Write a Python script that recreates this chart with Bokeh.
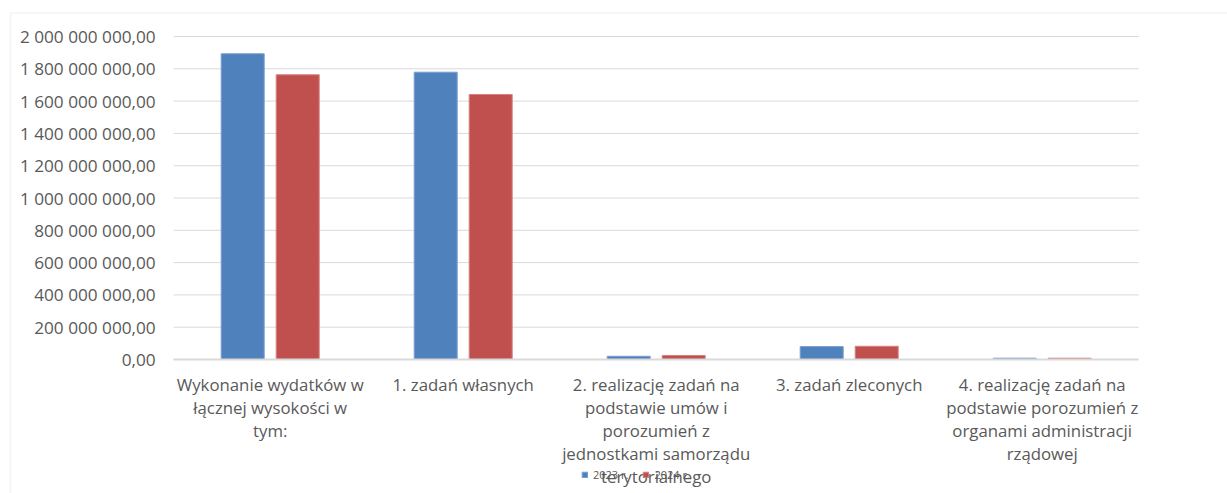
from bokeh.plotting import figure
from bokeh.models import (ColumnDataSource, FixedTicker, Legend, LegendItem,
                          BoxAnnotation, Range1d)
from bokeh.embed import file_html
from bokeh.resources import INLINE

categories = [
    "Wykonanie wydatków w\nłącznej wysokości w\ntym:",
    "1. zadań własnych",
    "2. realizację zadań na\npodstawie umów i\nporozumień z\njednostkami samorządu\nterytorialnego",
    "3. zadań zleconych",
    "4. realizację zadań na\npodstawie porozumień z\norganami administracji\nrządowej",
]
values_2023 = [1893000000, 1779000000, 20000000, 80000000, 8000000]
values_2024 = [1763000000, 1641000000, 25000000, 82000000, 8000000]
series_names = ["2023 r.", "2024 r."]
y_ticks = [i * 200000000 for i in range(11)]


def fmt(v):
    s = f"{v:,.2f}"
    return s.replace(",", " ").replace(".", ",")


idx = list(range(len(categories)))
off = 0.1425
bw = 43 / 193
src = ColumnDataSource(data=dict(
    xa=[i - off for i in idx], xb=[i + off for i in idx],
    a=values_2023, b=values_2024))

# layout geometry (canvas pixels -> data)
W, H = 1227, 493
PX_X = 193.0          # pixels per category
X0 = 173.2            # canvas x of plot-area left edge (x = -0.5)
PX_Y = 161.5e-9       # pixels per unit value
Y0 = 359.0            # canvas y of value 0


def xd(P):
    return -0.5 + (P - X0) / PX_X


def yd(P):
    return (Y0 - P) / PX_Y


FONT = "Open Sans"
p = figure(x_range=Range1d(xd(0), xd(W)), y_range=Range1d(yd(H), yd(0)),
           width=W, height=H, output_backend="svg", toolbar_location=None,
           min_border_left=0, min_border_right=0, min_border_top=0, min_border_bottom=0)

blue = "#4f81bd"
red = "#c0504d"
r1 = p.vbar(x="xa", top="a", width=bw, source=src,
            fill_color=blue, line_color="#7a9fcf", line_width=1)
r2 = p.vbar(x="xb", top="b", width=bw, source=src,
            fill_color=red, line_color="#d58280", line_width=1)

p.outline_line_color = None
p.background_fill_color = "white"
p.border_fill_color = "white"
p.xgrid.grid_line_color = None
p.ygrid.grid_line_color = None

# horizontal gridlines limited to the plot area
p.segment(x0=[-0.5] * len(y_ticks), x1=[len(categories) - 0.5] * len(y_ticks),
          y0=y_ticks, y1=y_ticks, line_color="#d9d9d9", line_width=1, level="underlay")

p.yaxis.fixed_location = -0.5
p.yaxis.ticker = FixedTicker(ticks=y_ticks)
p.yaxis.major_label_overrides = {t: fmt(t) for t in y_ticks}
p.yaxis.axis_line_color = None
p.yaxis.major_tick_line_color = None
p.yaxis.minor_tick_line_color = None
p.yaxis.major_label_standoff = 12
p.yaxis.major_label_text_font = FONT
p.yaxis.major_label_text_font_size = "17.2px"
p.yaxis.major_label_text_color = "#595959"

p.xaxis.fixed_location = 0
p.xaxis.bounds = (-0.5, len(categories) - 0.5)
p.xaxis.ticker = FixedTicker(ticks=idx)
p.xaxis.major_label_overrides = {i: c for i, c in zip(idx, categories)}
p.xaxis.axis_line_color = "#d9d9d9"
p.xaxis.axis_line_width = 2
p.xaxis.major_tick_line_color = None
p.xaxis.minor_tick_line_color = None
p.xaxis.major_label_standoff = 7
p.xaxis.major_label_text_font = FONT
p.xaxis.major_label_text_font_size = "16.8px"
p.xaxis.major_label_text_color = "#595959"
p.xaxis.major_label_text_line_height = 1.0

border = BoxAnnotation(left=xd(10), right=xd(1600), top=yd(12.5), bottom=yd(900),
                       fill_color=None, fill_alpha=0, line_color="#d9d9d9", line_width=1.5)
p.add_layout(border)

legend = Legend(items=[LegendItem(label=series_names[0], renderers=[r1]),
                       LegendItem(label=series_names[1], renderers=[r2])],
                orientation="horizontal", location=(581, 11),
                glyph_width=7, glyph_height=7, label_text_font=FONT,
                label_text_font_size="11px", label_text_color="#595959",
                label_standoff=5, spacing=14, padding=0, margin=0,
                border_line_color=None, background_fill_alpha=0, label_height=10)
p.add_layout(legend, "center")

open("out.html", "w").write(file_html(p, INLINE))
